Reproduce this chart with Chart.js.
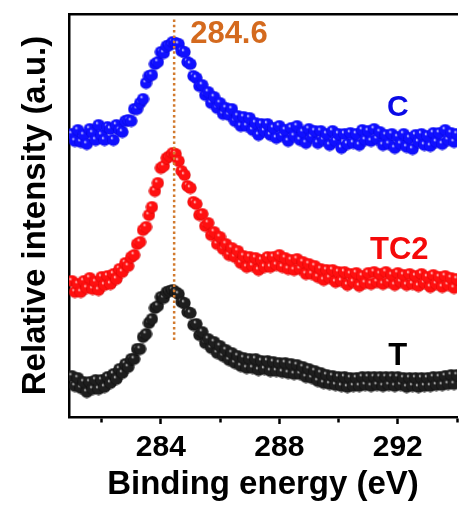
<!DOCTYPE html>
<html><head><meta charset="utf-8">
<script src="https://cdn.jsdelivr.net/npm/chart.js@4"></script>
<style>html,body{margin:0;padding:0;background:#fff;overflow:hidden}canvas{display:block}</style>
</head><body>
<canvas id="c" width="464" height="505"></canvas>
<script>
// Binding energy grid (eV)
const energy = [
281.0,281.1,281.2,281.3,281.4,281.5,281.6,281.7,281.8,281.9,
282.0,282.1,282.2,282.3,282.4,282.5,282.6,282.7,282.8,282.9,
283.0,283.1,283.2,283.3,283.4,283.5,283.6,283.7,283.8,283.9,
284.0,284.1,284.2,284.3,284.4,284.5,284.6,284.7,284.8,284.9,
285.0,285.1,285.2,285.3,285.4,285.5,285.6,285.7,285.8,285.9,
286.0,286.1,286.2,286.3,286.4,286.5,286.6,286.7,286.8,286.9,
287.0,287.1,287.2,287.3,287.4,287.5,287.6,287.7,287.8,287.9,
288.0,288.1,288.2,288.3,288.4,288.5,288.6,288.7,288.8,288.9,
289.0,289.1,289.2,289.3,289.4,289.5,289.6,289.7,289.8,289.9,
290.0,290.1,290.2,290.3,290.4,290.5,290.6,290.7,290.8,290.9,
291.0,291.1,291.2,291.3,291.4,291.5,291.6,291.7,291.8,291.9,
292.0,292.1,292.2,292.3,292.4,292.5,292.6,292.7,292.8,292.9,
293.0,293.1,293.2,293.3,293.4,293.5,293.6,293.7,293.8,293.9,
294.0];

// Relative intensities (a.u., stacked with offsets as in the figure)
const intensityC = [
283,276,287,275,282,273,288,284,277,292,
282,277,290,288,277,292,287,285,296,297,
296,308,308,314,318,334,341,342,353,355,
365,364,371,372,375,374,373,366,365,355,
353,341,339,331,332,322,325,314,320,309,
314,303,309,302,308,296,301,291,300,291,
299,287,294,282,293,286,293,282,289,279,
291,281,287,276,289,281,291,277,285,274,
288,280,286,274,286,277,283,272,286,276,
283,269,283,273,284,274,283,272,287,277,
286,276,288,278,285,272,282,273,283,269,
280,273,283,270,279,268,282,275,283,272,
281,271,284,275,284,273,287,277,284,275,
283];

const intensityTC2 = [
136,125,133,125,136,129,139,128,135,127,
140,132,141,133,143,138,148,145,154,151,
160,162,173,175,187,190,202,210,226,234,
249,251,259,261,264,263,256,246,242,231,
229,215,213,202,203,191,194,182,185,173,
180,168,173,162,169,160,166,154,161,150,
160,151,159,147,157,150,160,150,160,152,
162,150,159,148,157,147,158,148,155,143,
153,143,151,140,148,137,147,139,147,135,
145,136,145,132,143,135,144,131,141,134,
144,133,145,135,143,133,145,135,142,132,
144,135,142,132,143,133,141,131,143,134,
140,130,142,133,140,130,141,132,139,129,
138];

const intensityT = [
41,31,39,29,35,25,35,28,37,28,
37,30,40,34,43,38,48,44,53,50,
58,58,68,68,80,83,94,98,109,111,
120,119,125,126,127,125,123,115,114,105,
104,92,93,82,85,74,78,69,75,64,
71,61,67,57,64,54,61,51,59,49,
58,49,58,47,56,48,56,46,55,46,
54,45,54,44,53,43,52,43,50,40,
48,39,46,36,44,34,42,33,41,32,
40,31,40,30,39,31,39,31,40,32,
40,31,40,32,40,31,40,32,40,31,
40,32,39,30,39,31,39,30,39,31,
39,31,40,32,40,32,41,33,42,33,
42];

const seriesNames = ['C', 'TC2', 'T'];
const tickLabels = ['284', '288', '292'];
const refLine = {energy: 284.45, from: 77, to: 400, label: '284.6'};

// Styles / label placement (data space)
const ORANGE = '#D46A1E';
const textLabels = [
  {text: refLine.label, x: 286.3, y: 383, color: ORANGE, size: 31},
  {text: seriesNames[0], x: 292.0, y: 309, color: '#0a0ae6', size: 30},
  {text: seriesNames[1], x: 292.05, y: 167, color: '#f50a0a', size: 31},
  {text: seriesNames[2], x: 292.0, y: 61, color: '#000000', size: 31}
];

function sphere(light, base, dark) {
  const c = document.createElement('canvas');
  c.width = 13; c.height = 13;
  const g = c.getContext('2d');
  const grd = g.createRadialGradient(4.6, 4.3, 0.2, 6.5, 6.5, 6.3);
  grd.addColorStop(0, light);
  grd.addColorStop(0.25, base);
  grd.addColorStop(0.85, base);
  grd.addColorStop(1, dark);
  g.fillStyle = grd;
  g.beginPath(); g.arc(6.5, 6.5, 6.1, 0, Math.PI * 2); g.fill();
  return c;
}
const markC = sphere('#e6e6ff', '#1010ff', '#0000c0');
const markTC2 = sphere('#ffdede', '#ff1010', '#c00000');
const markT = sphere('#d4d4d4', '#1e1e1e', '#000000');

const toXY = arr => energy.map((e, i) => ({x: e, y: arr[i]}));

const labelPlugin = {
  id: 'labels',
  afterDatasetsDraw(chart) {
    const {ctx, scales: {x, y}} = chart;
    ctx.save();
    textLabels.forEach(l => {
      ctx.font = 'bold ' + l.size + 'px "Liberation Sans", Arial, sans-serif';
      ctx.fillStyle = l.color;
      ctx.textAlign = 'center';
      ctx.textBaseline = 'middle';
      ctx.fillText(l.text, x.getPixelForValue(l.x), y.getPixelForValue(l.y));
    });
    ctx.restore();
  }
};

const FONT = '"Liberation Sans", Arial, sans-serif';

new Chart(document.getElementById('c'), {
  type: 'scatter',
  data: {
    datasets: [
      {label: 'ref', type: 'line', data: [{x: refLine.energy, y: refLine.from}, {x: refLine.energy, y: refLine.to}],
       borderColor: '#D27A2E', borderWidth: 2.5, borderDash: [2.5, 2.8], pointRadius: 0, showLine: true, order: 0},
      {label: seriesNames[0], data: toXY(intensityC), pointStyle: markC, pointRadius: 6, showLine: false, order: 1},
      {label: seriesNames[1], data: toXY(intensityTC2), pointStyle: markTC2, pointRadius: 6, showLine: false, order: 1},
      {label: seriesNames[2], data: toXY(intensityT), pointStyle: markT, pointRadius: 6, showLine: false, order: 1}
    ]
  },
  options: {
    responsive: false,
    animation: false,
    devicePixelRatio: 1,
    layout: {padding: 0},
    plugins: {legend: {display: false}, tooltip: {enabled: false}},
    scales: {
      x: {
        type: 'linear', position: 'bottom', min: 280.9, max: 294,
        afterFit(s) { s.height = 88; },
        border: {display: true, color: '#000', width: 2.5},
        grid: {display: true, drawOnChartArea: false, drawTicks: true, tickLength: 7, tickWidth: 2.5, tickColor: '#000',
               tickBorderDash: ctx => (ctx.tick && tickLabels.includes(String(ctx.tick.value))) ? [] : [4, 30]},
        ticks: {stepSize: 2, includeBounds: false, autoSkip: false, maxRotation: 0, padding: 6,
                color: '#000', font: {family: FONT, size: 30, weight: 'bold'},
                callback: v => tickLabels.includes(String(v)) ? String(v) : ''},
        title: {display: true, text: 'Binding energy (eV)', color: '#000', padding: {top: 0, bottom: 0},
                font: {family: FONT, size: 33, weight: 'bold'}}
      },
      x2: {
        type: 'linear', position: 'top', min: 280.9, max: 294,
        afterFit(s) { s.height = 14; },
        border: {display: true, color: '#000', width: 2.5},
        grid: {display: false, drawTicks: false},
        ticks: {display: false}
      },
      y: {
        type: 'linear', position: 'left', min: 0, max: 403,
        afterFit(s) { s.width = 69; },
        border: {display: true, color: '#000', width: 2.5},
        grid: {display: false, drawTicks: false},
        ticks: {display: false},
        title: {display: true, text: 'Relative intensity (a.u.)', color: '#000', padding: {top: 16, bottom: 0},
                font: {family: FONT, size: 33, weight: 'bold'}}
      }
    }
  },
  plugins: [labelPlugin]
});
</script>
</body></html>
